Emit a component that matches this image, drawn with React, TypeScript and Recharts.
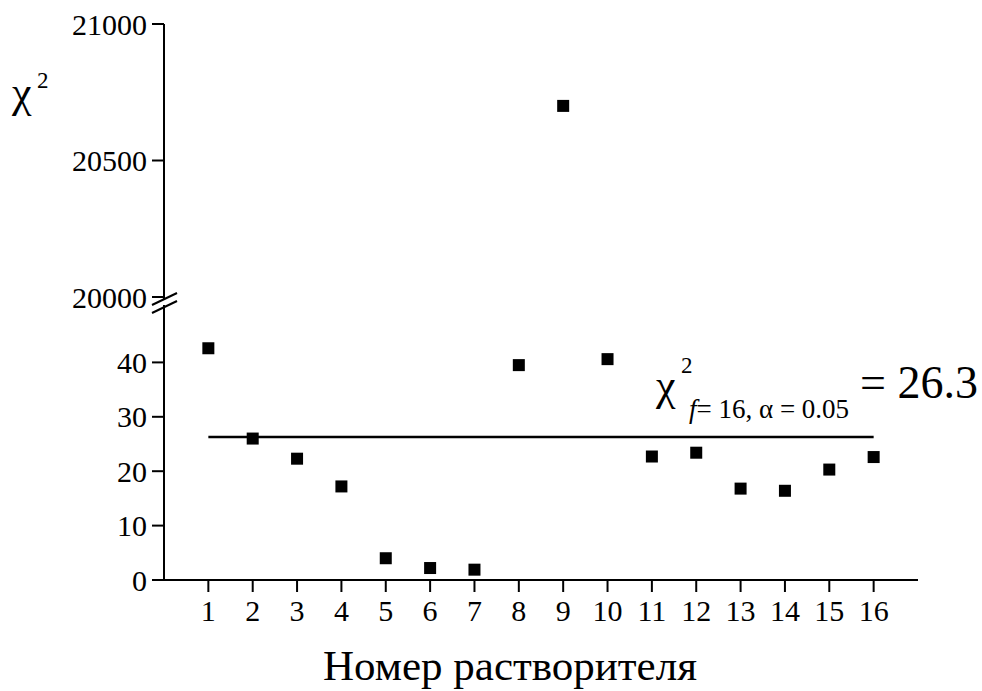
import { ScatterChart, Scatter, XAxis, YAxis, ReferenceLine } from "recharts";

// solvent number and chi-square value for each solvent
const solvents = [1, 2, 3, 4, 5, 6, 7, 8, 9, 10, 11, 12, 13, 14, 15, 16];
const chi2 = [42.6, 26.0, 22.3, 17.2, 4.0, 2.2, 1.9, 39.5, 20700, 40.6, 22.7, 23.4, 16.8, 16.4, 20.3, 22.6];
const chi2Critical = 26.3;

const upperTicks = [20000, 20500, 21000];
const lowerTicks = [0, 10, 20, 30, 40];
const breakAt = 20000;

const points = solvents.map((n, i) => ({ n, v: chi2[i] }));
const upperPoints = points.filter((p) => p.v >= breakAt);
const lowerPoints = points.filter((p) => p.v < breakAt);

const FONT = "Liberation Serif";
const tickStyle = { fontSize: 30, fill: "#000", fontFamily: FONT };
const axisLine = { stroke: "#000", strokeWidth: 2 };
const txt = { fontFamily: FONT, fill: "#000" };

const Square = (props: any) => {
  const { cx, cy } = props;
  return <rect x={cx - 6} y={cy - 6} width={12} height={12} fill="#000" />;
};

export default function App() {
  return (
    <div style={{ position: "absolute", left: 0, top: 0, width: 982, height: 691, background: "#fff" }}>
      <div style={{ position: "absolute", left: 0, top: 0 }}>
        <ScatterChart width={982} height={320} margin={{ top: 24, right: 64, bottom: 23, left: 0 }}>
          <XAxis type="number" dataKey="n" domain={[0, 17]} hide />
          <YAxis
            type="number"
            dataKey="v"
            domain={[20000, 21000]}
            ticks={upperTicks}
            interval={0}
            width={164}
            tickSize={12}
            tickMargin={5}
            axisLine={axisLine}
            tickLine={axisLine}
            tick={tickStyle}
          />
          <Scatter data={upperPoints} shape={<Square />} isAnimationActive={false} />
        </ScatterChart>
      </div>
      <div style={{ position: "absolute", left: 0, top: 290 }}>
        <ScatterChart width={982} height={350} margin={{ top: 18, right: 64, bottom: 10, left: 0 }}>
          <XAxis
            type="number"
            dataKey="n"
            domain={[0, 17]}
            ticks={solvents}
            interval={0}
            height={50}
            tickSize={12}
            tickMargin={8}
            axisLine={axisLine}
            tickLine={axisLine}
            tick={tickStyle}
          />
          <YAxis
            type="number"
            dataKey="v"
            domain={[0, 50]}
            ticks={lowerTicks}
            interval={0}
            width={164}
            tickSize={12}
            tickMargin={5}
            axisLine={axisLine}
            tickLine={axisLine}
            tick={tickStyle}
          />
          <ReferenceLine
            segment={[
              { x: solvents[0], y: chi2Critical },
              { x: solvents[solvents.length - 1], y: chi2Critical },
            ]}
            stroke="#000"
            strokeWidth={2.5}
          />
          <Scatter data={lowerPoints} shape={<Square />} isAnimationActive={false} />
        </ScatterChart>
      </div>
      <svg
        width={982}
        height={691}
        style={{ position: "absolute", left: 0, top: 0, pointerEvents: "none" }}
      >
        {/* axis break */}
        <line x1={164} y1={296} x2={164} y2={300} stroke="#000" strokeWidth={2} />
        <line x1={164} y1={305} x2={164} y2={309} stroke="#000" strokeWidth={2} />
        <line x1={152} y1={305} x2={177} y2={293} stroke="#000" strokeWidth={2} />
        <line x1={152} y1={313} x2={177} y2={301} stroke="#000" strokeWidth={2} />

        {/* y-axis title */}
        <text x={12} y={107} fontSize={44} style={txt}>χ</text>
        <text x={37} y={88} fontSize={23} style={txt}>2</text>

        {/* critical value annotation */}
        <text x={656} y={400} fontSize={44} style={txt}>χ</text>
        <text x={681} y={373} fontSize={23} style={txt}>2</text>
        <text x={689} y={418} fontSize={27} style={txt}>
          <tspan fontStyle="italic">f</tspan>= 16, α = 0.05
        </text>
        <text x={860} y={398} fontSize={46} style={txt}>= 26.3</text>

        {/* x-axis title */}
        <text x={510} y={680} fontSize={43} textAnchor="middle" style={txt}>Номер растворителя</text>
      </svg>
    </div>
  );
}
